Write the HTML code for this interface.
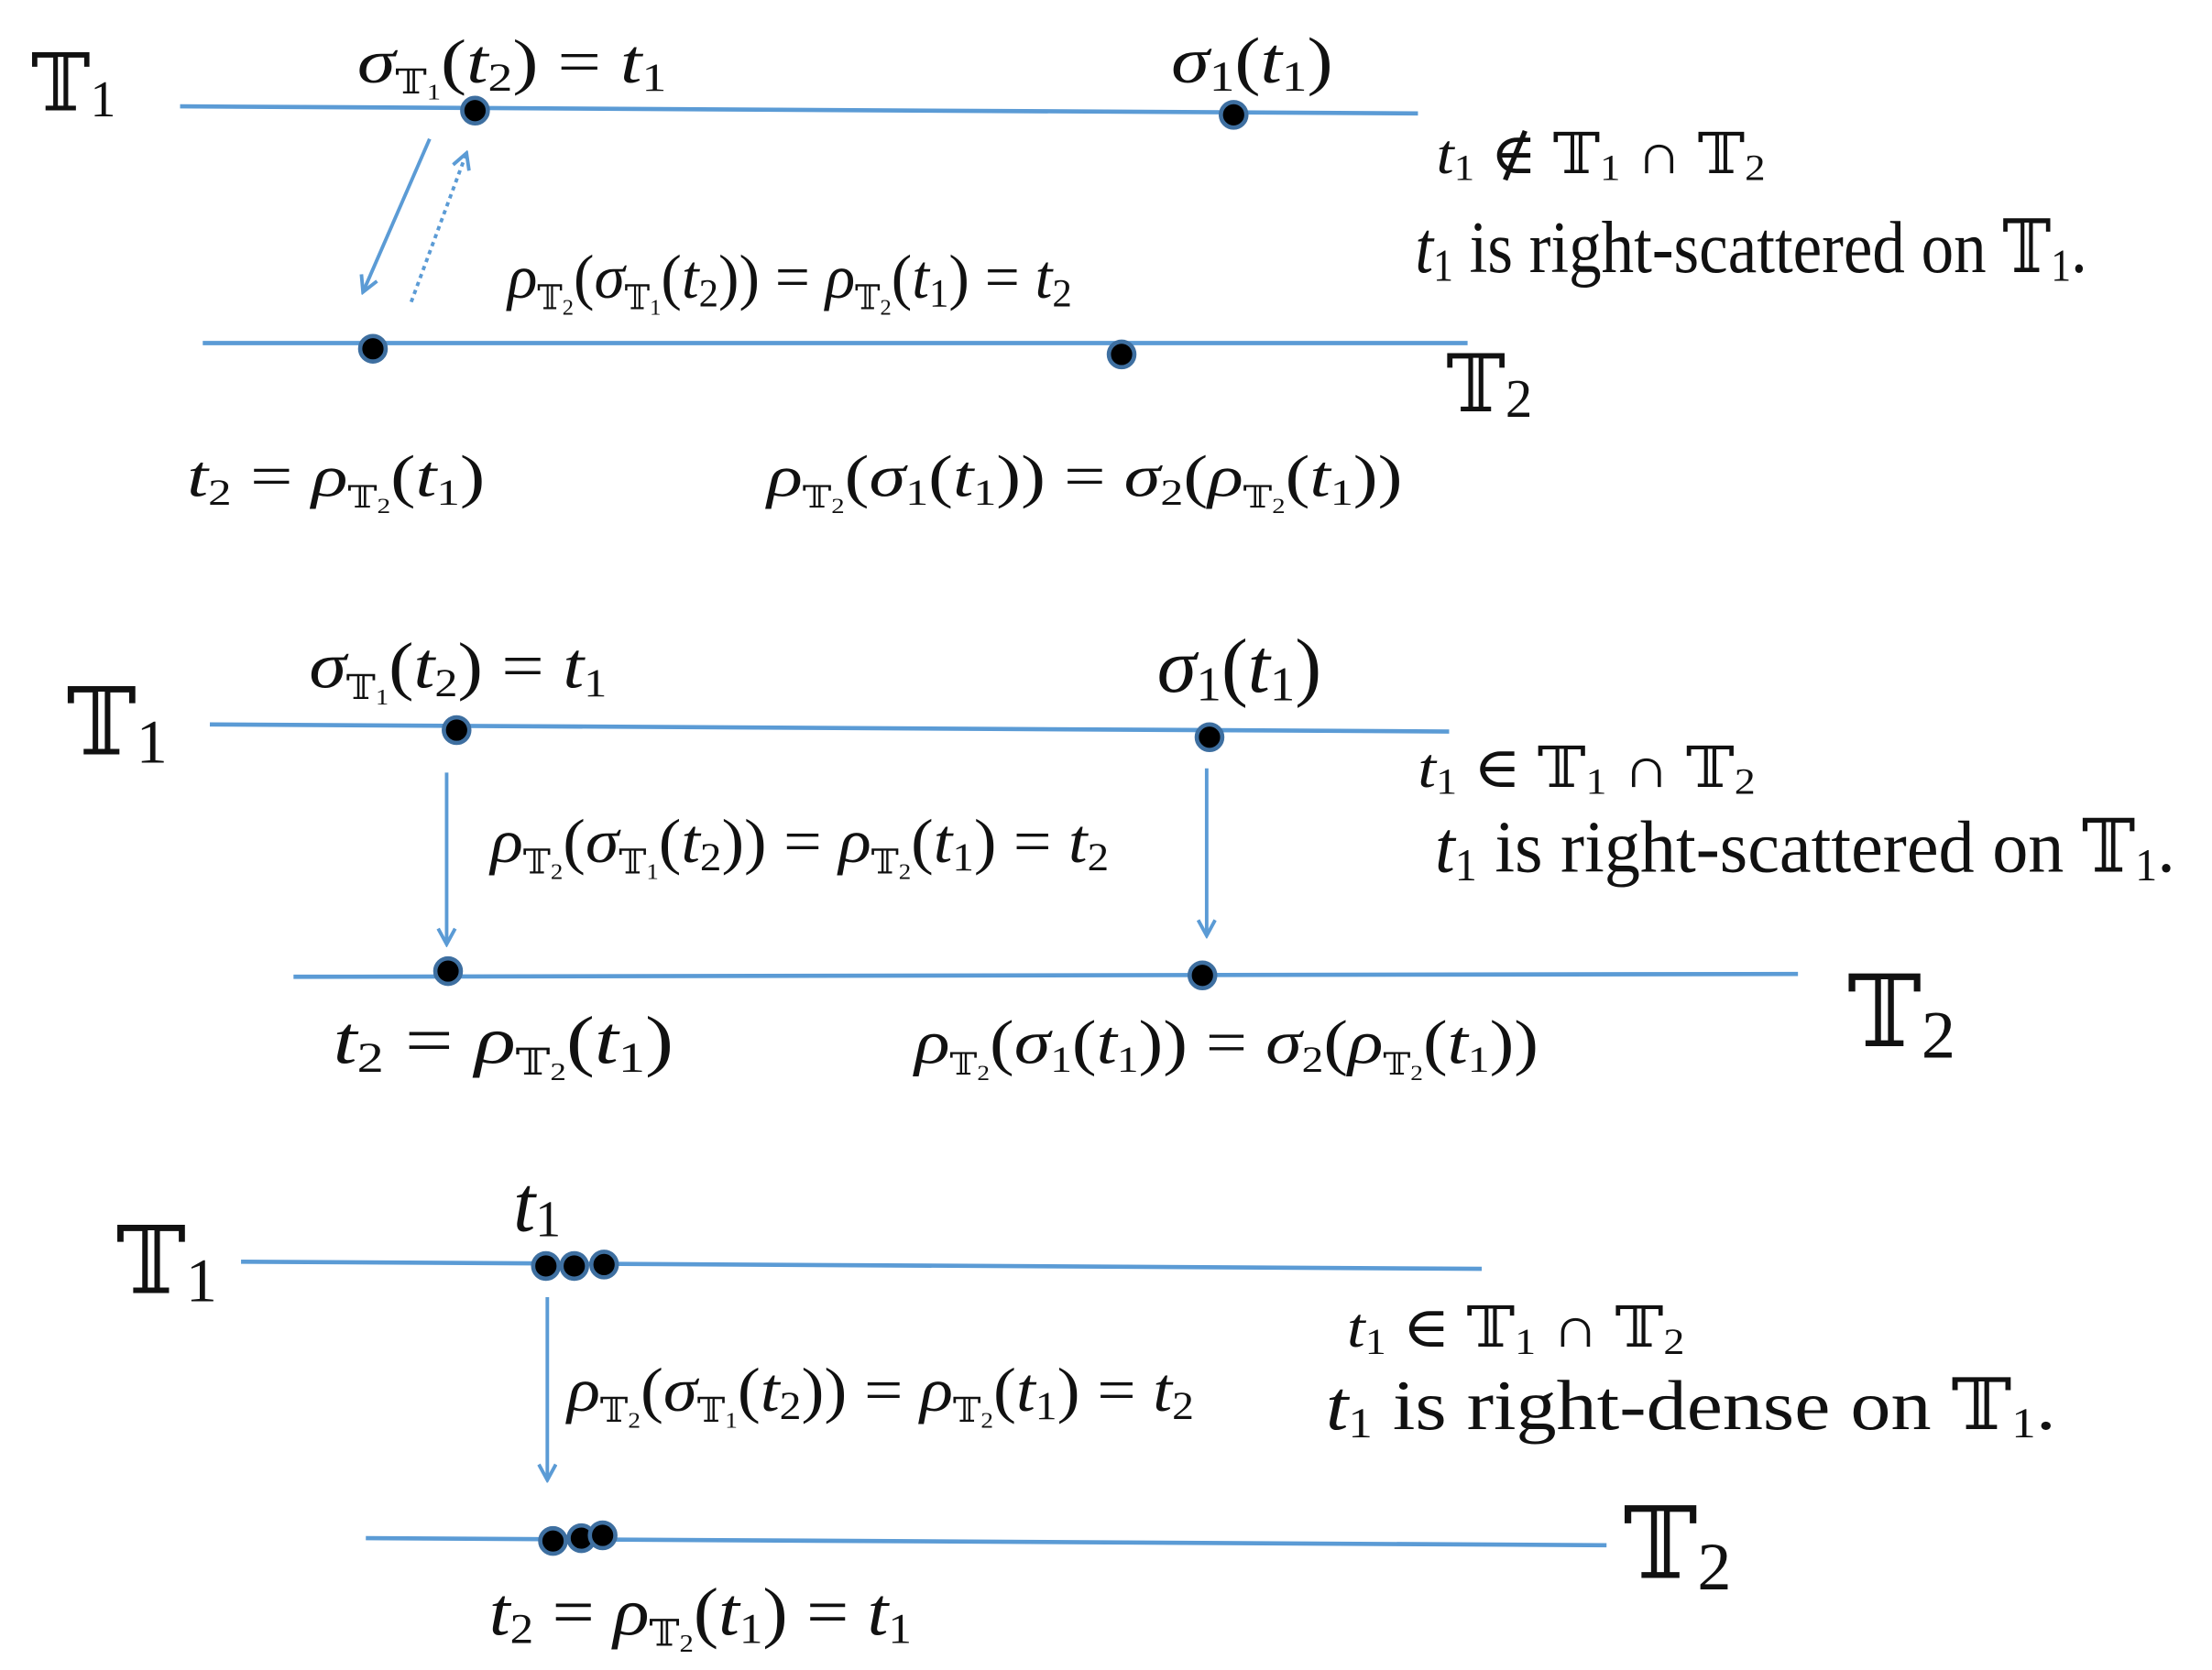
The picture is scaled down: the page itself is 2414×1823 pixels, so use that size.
<!DOCTYPE html>
<html><head><meta charset="utf-8"><style>
html,body{margin:0;padding:0;background:#fff;}
svg{display:block;}
text{font-family:"Liberation Serif","DejaVu Serif",serif;fill:#111;}
.i{font-style:italic;}
</style></head><body>
<svg width="2414" height="1823" viewBox="0 0 1560 1178" preserveAspectRatio="none" xmlns="http://www.w3.org/2000/svg">
<defs>
<marker id="ah" markerWidth="14" markerHeight="14" refX="12" refY="7" orient="auto" markerUnits="userSpaceOnUse">
<path d="M1,1 L12,7 L1,13" fill="none" stroke="#5b9bd5" stroke-width="2.5"/>
</marker>
</defs>
<g stroke="#5b9bd5" stroke-width="3" fill="none">
<line x1="127" y1="75" x2="1000" y2="80"/>
<line x1="143" y1="242" x2="1035" y2="242"/>
<line x1="148" y1="511" x2="1022" y2="516"/>
<line x1="207" y1="689" x2="1268" y2="687"/>
<line x1="170" y1="890" x2="1045" y2="895"/>
<line x1="258" y1="1085" x2="1133" y2="1090"/>
</g>
<g stroke="#5b9bd5" stroke-width="2.5" fill="none">
<line x1="303" y1="98" x2="256" y2="206" marker-end="url(#ah)"/>
<line x1="290" y1="213" x2="329" y2="108" stroke-dasharray="3,3" marker-end="url(#ah)"/>
<line x1="315" y1="545" x2="315" y2="666" marker-end="url(#ah)"/>
<line x1="851" y1="542" x2="851" y2="660" marker-end="url(#ah)"/>
<line x1="386" y1="915" x2="386" y2="1044" marker-end="url(#ah)"/>
</g>
<g fill="#000" stroke="#3e6fa0" stroke-width="3">
<circle cx="335" cy="78" r="9"/><circle cx="870" cy="81" r="9"/>
<circle cx="263" cy="246" r="9"/><circle cx="791" cy="250" r="9"/>
<circle cx="322" cy="515" r="9"/><circle cx="853" cy="520" r="9"/>
<circle cx="316" cy="685" r="9"/><circle cx="848" cy="688" r="9"/>
<circle cx="385" cy="893" r="9"/><circle cx="405" cy="893" r="9"/><circle cx="426" cy="892" r="9"/>
<circle cx="390" cy="1087" r="9"/><circle cx="410" cy="1085" r="9"/><circle cx="425" cy="1083" r="9"/>
</g>

<!-- Panel 1 -->
<text x="22" y="78" font-size="56">𝕋<tspan font-size="36" dy="4">1</tspan></text>
<text x="252" y="58" font-size="44" textLength="218" lengthAdjust="spacingAndGlyphs"><tspan class="i">σ</tspan><tspan font-size="24" dy="8">𝕋</tspan><tspan font-size="16" dy="4">1</tspan><tspan dy="-12">(</tspan><tspan class="i">t</tspan><tspan font-size="28" dy="6">2</tspan><tspan dy="-6">) = </tspan><tspan class="i">t</tspan><tspan font-size="28" dy="6">1</tspan></text>
<text x="826" y="58" font-size="46" textLength="114" lengthAdjust="spacingAndGlyphs"><tspan class="i">σ</tspan><tspan font-size="30" dy="6">1</tspan><tspan dy="-6">(</tspan><tspan class="i">t</tspan><tspan font-size="30" dy="6">1</tspan><tspan dy="-6">)</tspan></text>
<text x="1013" y="122" font-size="40" textLength="232" lengthAdjust="spacingAndGlyphs"><tspan class="i">t</tspan><tspan font-size="26" dy="5">1</tspan><tspan dy="-5"> ∉ 𝕋</tspan><tspan font-size="26" dy="5">1</tspan><tspan dy="-5"> ∩ 𝕋</tspan><tspan font-size="26" dy="5">2</tspan></text>
<text x="998" y="192" font-size="52" textLength="474" lengthAdjust="spacingAndGlyphs"><tspan class="i">t</tspan><tspan font-size="32" dy="6">1</tspan><tspan dy="-6"> is right-scattered on 𝕋</tspan><tspan font-size="32" dy="6">1</tspan><tspan dy="-6">.</tspan></text>
<text x="358" y="210" font-size="44" textLength="398" lengthAdjust="spacingAndGlyphs"><tspan class="i">ρ</tspan><tspan font-size="24" dy="8">𝕋</tspan><tspan font-size="16" dy="4">2</tspan><tspan dy="-12">(</tspan><tspan class="i">σ</tspan><tspan font-size="24" dy="8">𝕋</tspan><tspan font-size="16" dy="4">1</tspan><tspan dy="-12">(</tspan><tspan class="i">t</tspan><tspan font-size="28" dy="6">2</tspan><tspan dy="-6">)) = </tspan><tspan class="i">ρ</tspan><tspan font-size="24" dy="8">𝕋</tspan><tspan font-size="16" dy="4">2</tspan><tspan dy="-12">(</tspan><tspan class="i">t</tspan><tspan font-size="28" dy="6">1</tspan><tspan dy="-6">) = </tspan><tspan class="i">t</tspan><tspan font-size="28" dy="6">2</tspan></text>
<text x="1020" y="290" font-size="56">𝕋<tspan font-size="38" dy="4">2</tspan></text>
<text x="132" y="350" font-size="42" textLength="210" lengthAdjust="spacingAndGlyphs"><tspan class="i">t</tspan><tspan font-size="26" dy="6">2</tspan><tspan dy="-6"> = </tspan><tspan class="i">ρ</tspan><tspan font-size="22" dy="8">𝕋</tspan><tspan font-size="15" dy="4">2</tspan><tspan dy="-12">(</tspan><tspan class="i">t</tspan><tspan font-size="26" dy="6">1</tspan><tspan dy="-6">)</tspan></text>
<text x="541" y="350" font-size="42" textLength="448" lengthAdjust="spacingAndGlyphs"><tspan class="i">ρ</tspan><tspan font-size="22" dy="8">𝕋</tspan><tspan font-size="15" dy="4">2</tspan><tspan dy="-12">(</tspan><tspan class="i">σ</tspan><tspan font-size="26" dy="6">1</tspan><tspan dy="-6">(</tspan><tspan class="i">t</tspan><tspan font-size="26" dy="6">1</tspan><tspan dy="-6">))  =  </tspan><tspan class="i">σ</tspan><tspan font-size="26" dy="6">2</tspan><tspan dy="-6">(</tspan><tspan class="i">ρ</tspan><tspan font-size="22" dy="8">𝕋</tspan><tspan font-size="15" dy="4">2</tspan><tspan dy="-12">(</tspan><tspan class="i">t</tspan><tspan font-size="26" dy="6">1</tspan><tspan dy="-6">))</tspan></text>

<!-- Panel 2 -->
<text x="47" y="532" font-size="66">𝕋<tspan font-size="44" dy="6">1</tspan></text>
<text x="218" y="485" font-size="46" textLength="210" lengthAdjust="spacingAndGlyphs"><tspan class="i">σ</tspan><tspan font-size="24" dy="8">𝕋</tspan><tspan font-size="16" dy="4">1</tspan><tspan dy="-12">(</tspan><tspan class="i">t</tspan><tspan font-size="28" dy="6">2</tspan><tspan dy="-6">) = </tspan><tspan class="i">t</tspan><tspan font-size="28" dy="6">1</tspan></text>
<text x="816" y="488" font-size="54" textLength="116" lengthAdjust="spacingAndGlyphs"><tspan class="i">σ</tspan><tspan font-size="34" dy="6">1</tspan><tspan dy="-6">(</tspan><tspan class="i">t</tspan><tspan font-size="34" dy="6">1</tspan><tspan dy="-6">)</tspan></text>
<text x="1000" y="555" font-size="40" textLength="238" lengthAdjust="spacingAndGlyphs"><tspan class="i">t</tspan><tspan font-size="26" dy="5">1</tspan><tspan dy="-5"> ∈ 𝕋</tspan><tspan font-size="26" dy="5">1</tspan><tspan dy="-5"> ∩ 𝕋</tspan><tspan font-size="26" dy="5">2</tspan></text>
<text x="1012" y="615" font-size="52" textLength="522" lengthAdjust="spacingAndGlyphs"><tspan class="i">t</tspan><tspan font-size="32" dy="6">1</tspan><tspan dy="-6"> is right-scattered on 𝕋</tspan><tspan font-size="32" dy="6">1</tspan><tspan dy="-6">.</tspan></text>
<text x="346" y="608" font-size="44" textLength="436" lengthAdjust="spacingAndGlyphs"><tspan class="i">ρ</tspan><tspan font-size="24" dy="8">𝕋</tspan><tspan font-size="16" dy="4">2</tspan><tspan dy="-12">(</tspan><tspan class="i">σ</tspan><tspan font-size="24" dy="8">𝕋</tspan><tspan font-size="16" dy="4">1</tspan><tspan dy="-12">(</tspan><tspan class="i">t</tspan><tspan font-size="28" dy="6">2</tspan><tspan dy="-6">)) = </tspan><tspan class="i">ρ</tspan><tspan font-size="24" dy="8">𝕋</tspan><tspan font-size="16" dy="4">2</tspan><tspan dy="-12">(</tspan><tspan class="i">t</tspan><tspan font-size="28" dy="6">1</tspan><tspan dy="-6">) = </tspan><tspan class="i">t</tspan><tspan font-size="28" dy="6">2</tspan></text>
<text x="1303" y="738" font-size="70">𝕋<tspan font-size="48" dy="8">2</tspan></text>
<text x="235" y="750" font-size="48" textLength="240" lengthAdjust="spacingAndGlyphs"><tspan class="i">t</tspan><tspan font-size="30" dy="6">2</tspan><tspan dy="-6"> = </tspan><tspan class="i">ρ</tspan><tspan font-size="26" dy="8">𝕋</tspan><tspan font-size="18" dy="4">2</tspan><tspan dy="-12">(</tspan><tspan class="i">t</tspan><tspan font-size="30" dy="6">1</tspan><tspan dy="-6">)</tspan></text>
<text x="645" y="750" font-size="44" textLength="440" lengthAdjust="spacingAndGlyphs"><tspan class="i">ρ</tspan><tspan font-size="22" dy="8">𝕋</tspan><tspan font-size="15" dy="4">2</tspan><tspan dy="-12">(</tspan><tspan class="i">σ</tspan><tspan font-size="26" dy="6">1</tspan><tspan dy="-6">(</tspan><tspan class="i">t</tspan><tspan font-size="26" dy="6">1</tspan><tspan dy="-6">))  =  </tspan><tspan class="i">σ</tspan><tspan font-size="26" dy="6">2</tspan><tspan dy="-6">(</tspan><tspan class="i">ρ</tspan><tspan font-size="22" dy="8">𝕋</tspan><tspan font-size="15" dy="4">2</tspan><tspan dy="-12">(</tspan><tspan class="i">t</tspan><tspan font-size="26" dy="6">1</tspan><tspan dy="-6">))</tspan></text>

<!-- Panel 3 -->
<text x="82" y="912" font-size="66">𝕋<tspan font-size="44" dy="6">1</tspan></text>
<text x="362" y="868" font-size="56" class="i">t<tspan font-size="36" dy="4" font-style="normal">1</tspan></text>
<text x="950" y="950" font-size="40" textLength="238" lengthAdjust="spacingAndGlyphs"><tspan class="i">t</tspan><tspan font-size="26" dy="5">1</tspan><tspan dy="-5"> ∈ 𝕋</tspan><tspan font-size="26" dy="5">1</tspan><tspan dy="-5"> ∩ 𝕋</tspan><tspan font-size="26" dy="5">2</tspan></text>
<text x="935" y="1008" font-size="50" textLength="515" lengthAdjust="spacingAndGlyphs"><tspan class="i">t</tspan><tspan font-size="30" dy="6">1</tspan><tspan dy="-6"> is right-dense on 𝕋</tspan><tspan font-size="30" dy="6">1</tspan><tspan dy="-6">.</tspan></text>
<text x="400" y="995" font-size="44" textLength="442" lengthAdjust="spacingAndGlyphs"><tspan class="i">ρ</tspan><tspan font-size="24" dy="8">𝕋</tspan><tspan font-size="16" dy="4">2</tspan><tspan dy="-12">(</tspan><tspan class="i">σ</tspan><tspan font-size="24" dy="8">𝕋</tspan><tspan font-size="16" dy="4">1</tspan><tspan dy="-12">(</tspan><tspan class="i">t</tspan><tspan font-size="28" dy="6">2</tspan><tspan dy="-6">)) = </tspan><tspan class="i">ρ</tspan><tspan font-size="24" dy="8">𝕋</tspan><tspan font-size="16" dy="4">2</tspan><tspan dy="-12">(</tspan><tspan class="i">t</tspan><tspan font-size="28" dy="6">1</tspan><tspan dy="-6">) = </tspan><tspan class="i">t</tspan><tspan font-size="28" dy="6">2</tspan></text>
<text x="1145" y="1113" font-size="70">𝕋<tspan font-size="48" dy="8">2</tspan></text>
<text x="345" y="1153" font-size="48" textLength="298" lengthAdjust="spacingAndGlyphs"><tspan class="i">t</tspan><tspan font-size="30" dy="6">2</tspan><tspan dy="-6"> = </tspan><tspan class="i">ρ</tspan><tspan font-size="26" dy="8">𝕋</tspan><tspan font-size="18" dy="4">2</tspan><tspan dy="-12">(</tspan><tspan class="i">t</tspan><tspan font-size="30" dy="6">1</tspan><tspan dy="-6">) = </tspan><tspan class="i">t</tspan><tspan font-size="30" dy="6">1</tspan></text>
</svg>
</body></html>
